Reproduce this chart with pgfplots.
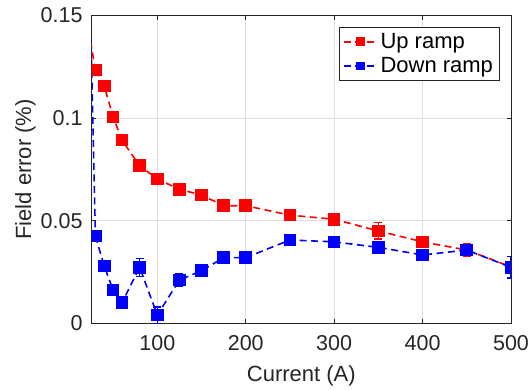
\documentclass[border=0pt]{standalone}
\usepackage{pgfplots}
\pgfplotsset{compat=1.18}
\usepackage{fontspec}
\setmainfont{Liberation Sans}
\definecolor{axgray}{HTML}{262626}
\definecolor{gridgray}{HTML}{DEDEDE}
\begin{document}
\begin{tikzpicture}
\useasboundingbox (-91.7bp,-66.7bp) rectangle (440.3bp,323.3bp);
\begin{axis}[
  scale only axis,
  width=419.3bp, height=307.8bp,
  xmin=25.8, xmax=500, ymin=0, ymax=0.15,
  xtick={100,200,300,400,500},
  xticklabels={100,200,300,400,500},
  ytick={0,0.05,0.1,0.15},
  yticklabels={0,0.05,0.1,0.15},
  tick align=inside,
  major tick length=4.2bp,
  tick style={axgray, line width=0.8bp},
  axis line style={axgray, line width=1bp},
  grid=major,
  major grid style={gridgray, line width=0.8bp},
  ticklabel style={font=\fontsize{21.5bp}{25bp}\selectfont, text=axgray},
  xticklabel style={inner sep=0pt, anchor=north, yshift=-11.7bp},
  yticklabel style={inner sep=0pt, anchor=east, xshift=-9bp},
  label style={font=\fontsize{22bp}{26bp}\selectfont, text=axgray},
  xlabel={Current (A)},
  ylabel={Field error (\%)},
  xlabel style={at={(axis description cs:0.5,-0.18844)}, anchor=base, inner sep=0pt},
  ylabel style={at={(axis description cs:-0.14473,0.5)}, anchor=base, inner sep=0pt},
  clip marker paths=true,
  legend style={at={(rel axis cs:1,1)}, anchor=north east, xshift=-11.3bp, yshift=-11.2bp,
    font=\fontsize{22bp}{26bp}\selectfont, text=black, draw=axgray, line width=0.8bp,
    inner xsep=3.3bp, inner ysep=3.3bp, row sep=1.6bp, nodes={inner sep=3bp},
    cells={anchor=west}},
  legend image code/.code={\draw[mark repeat=2,mark phase=2,mark size=3.5bp] plot coordinates {(0bp,0bp) (16.5bp,0bp) (33bp,0bp)};},
]
% clipped segments to first (off-axis) point
\addplot[red, line width=1.6bp, dash pattern=on 7bp off 4.5bp, forget plot] coordinates {(20,0.1486) (30,0.1234)};
\addplot[blue, line width=1.6bp, dash pattern=on 7bp off 4.5bp, forget plot] coordinates {(20,0.235) (30,0.0425)};

\addplot[red, line width=1.6bp, dash pattern=on 7bp off 4.5bp, mark=square*, mark size=5.5bp,
  mark options={solid, fill=red},
  error bars/.cd, y dir=both, y explicit,
  error bar style={solid, line width=1.4bp},
  error mark options={solid, rotate=90, mark size=4bp, line width=1.4bp}]
  table[x=x, y=y, y error=e] {
x y e
30 0.1234 0
40 0.1156 0
50 0.1006 0
60 0.0893 0
80 0.0768 0
100 0.0703 0
125 0.0653 0
150 0.0625 0
175 0.0573 0
200 0.0573 0
250 0.0527 0
300 0.0507 0
350 0.0450 0.004
400 0.0397 0
450 0.0357 0.003
500 0.0275 0
};
\addlegendentry{Up ramp}

\addplot[blue, line width=1.6bp, dash pattern=on 7bp off 4.5bp, mark=square*, mark size=5.5bp,
  mark options={solid, fill=blue},
  error bars/.cd, y dir=both, y explicit,
  error bar style={solid, line width=1.4bp},
  error mark options={solid, rotate=90, mark size=4bp, line width=1.4bp}]
  table[x=x, y=y, y error=e] {
x y e
30 0.0425 0
40 0.0279 0
50 0.0162 0
60 0.0100 0
80 0.0273 0.0044
100 0.0040 0.004
125 0.0211 0.003
150 0.0256 0
175 0.0320 0
200 0.0320 0
250 0.0406 0
300 0.0397 0
350 0.0370 0
400 0.0333 0
450 0.0357 0
500 0.0273 0.0052
};
\addlegendentry{Down ramp}
\end{axis}
\end{tikzpicture}
\end{document}
